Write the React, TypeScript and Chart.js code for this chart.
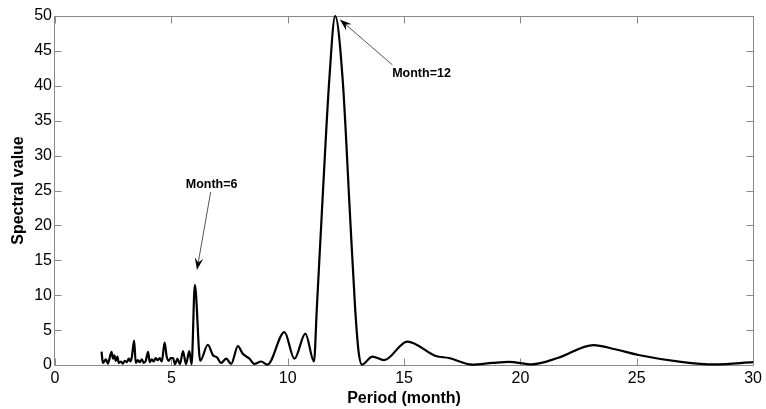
import React, { useEffect, useRef } from "react";
import { Chart, registerables } from "chart.js";

Chart.register(...registerables);

const periods = [
  2.0, 2.06, 2.19, 2.27, 2.43, 2.49, 2.55, 2.61, 2.68, 2.74, 2.83, 2.91, 3.0, 3.09, 3.17, 3.24, 3.3,
  3.4, 3.47, 3.56, 3.64, 3.73, 3.81, 3.9, 4.0, 4.07, 4.16, 4.24, 4.33, 4.41, 4.5, 4.59, 4.71, 4.8,
  4.89, 4.97, 5.07, 5.16, 5.26, 5.37, 5.5, 5.63, 5.77, 5.87, 6.01, 6.24, 6.57, 6.79, 6.96, 7.14,
  7.36, 7.57, 7.86, 8.07, 8.36, 8.57, 8.86, 9.13, 9.86, 10.29, 10.76, 11.13, 11.25, 11.47, 11.79,
  12.04, 12.36, 12.67, 12.9, 13.05, 13.19, 13.64, 14.14, 15.14, 16.36, 16.93, 17.93, 18.8, 19.5,
  20.5, 21.6, 23.14, 24.07, 25.07, 26.9, 28.36, 30.0,
];
const spectral = [
  1.9, 0.3, 0.8, 0.2, 1.9, 0.9, 1.4, 0.6, 1.2, 0.3, 0.5, 0.2, 0.6, 0.4, 0.9, 0.5, 1.1,
  3.5, 0.3, 0.7, 0.4, 0.8, 0.3, 0.6, 1.9, 0.4, 0.8, 0.5, 1.0, 0.7, 1.0, 0.5, 3.2, 1.2,
  0.6, 1.0, 1.0, 0.1, 0.9, 0.1, 2.0, 0.1, 2.0, 0.1, 11.5, 0.6, 2.9, 1.4, 1.1, 0.3,
  0.9, 0.15, 2.7, 1.6, 0.9, 0.15, 0.5, 0.05, 4.7, 0.9, 4.5, 0.5, 8.0, 22.0, 41.0,
  50.0, 41.0, 22.0, 8.0, 1.8, 0.05, 1.2, 0.7, 3.35, 1.3, 1.0, 0.05, 0.3, 0.45,
  0.1, 1.0, 2.86, 2.25, 1.43, 0.45, 0.08, 0.4,
];
const xTicks = [0, 5, 10, 15, 20, 25, 30];
const yTicks = [0, 5, 10, 15, 20, 25, 30, 35, 40, 45, 50];

const annLabels = ["Month=12", "Month=6"];
const annTextX = [14.49, 5.62];
const annTextY = [41.76, 25.9];
const annFromX = [14.5, 6.69];
const annFromY = [43.0, 24.8];
const annToX = [12.24, 6.1];
const annToY = [49.5, 13.6];

const FONT = "'Liberation Sans', Arial, sans-serif";

const framePlugin = {
  id: "frame",
  beforeDatasetsDraw(chart: any) {
    const { ctx, chartArea: a, scales } = chart;
    const x = scales.x;
    const y = scales.y;
    ctx.save();
    ctx.strokeStyle = "#8a8a8a";
    ctx.lineWidth = 1;
    const L = Math.round(a.left) - 0.5;
    const R = Math.round(a.right) + 0.5;
    const T = Math.round(a.top) + 0.5;
    const B = Math.round(a.bottom) + 0.5;
    ctx.beginPath();
    ctx.rect(L, T, R - L, B - T);
    ctx.stroke();
    const tl = 7;
    ctx.beginPath();
    xTicks.forEach((v) => {
      const px = Math.round(x.getPixelForValue(v)) + 0.5;
      ctx.moveTo(px, B);
      ctx.lineTo(px, B - tl);
      ctx.moveTo(px, T);
      ctx.lineTo(px, T + tl);
    });
    yTicks.forEach((v) => {
      const py = Math.round(y.getPixelForValue(v)) + 0.5;
      ctx.moveTo(L, py);
      ctx.lineTo(L + tl, py);
      ctx.moveTo(R, py);
      ctx.lineTo(R - tl, py);
    });
    ctx.stroke();
    ctx.restore();
  },
  afterDatasetsDraw(chart: any) {
    const { ctx, scales } = chart;
    const x = scales.x;
    const y = scales.y;
    ctx.save();
    annLabels.forEach((label, i) => {
      const x0 = x.getPixelForValue(annFromX[i]);
      const y0 = y.getPixelForValue(annFromY[i]);
      const x1 = x.getPixelForValue(annToX[i]);
      const y1 = y.getPixelForValue(annToY[i]);
      const ang = Math.atan2(y1 - y0, x1 - x0);
      const len = 12;
      const hw = 4.2;
      const bx = x1 - len * Math.cos(ang);
      const by = y1 - len * Math.sin(ang);
      const nx = x1 - len * 0.65 * Math.cos(ang);
      const ny = y1 - len * 0.65 * Math.sin(ang);
      ctx.strokeStyle = "#555";
      ctx.lineWidth = 1;
      ctx.beginPath();
      ctx.moveTo(x0, y0);
      ctx.lineTo(nx, ny);
      ctx.stroke();
      ctx.fillStyle = "#000";
      ctx.beginPath();
      ctx.moveTo(x1, y1);
      ctx.lineTo(bx - hw * Math.sin(ang), by + hw * Math.cos(ang));
      ctx.lineTo(nx, ny);
      ctx.lineTo(bx + hw * Math.sin(ang), by - hw * Math.cos(ang));
      ctx.closePath();
      ctx.fill();
      ctx.font = `bold 12.5px ${FONT}`;
      ctx.textAlign = "left";
      ctx.textBaseline = "middle";
      ctx.fillText(label, x.getPixelForValue(annTextX[i]), y.getPixelForValue(annTextY[i]));
    });
    ctx.restore();
  },
};

export default function App() {
  const ref = useRef<HTMLCanvasElement | null>(null);
  useEffect(() => {
    if (!ref.current) return;
    const chart = new Chart(ref.current, {
      type: "line",
      data: {
        datasets: [
          {
            data: periods.map((p, i) => ({ x: p, y: spectral[i] })),
            borderColor: "#000",
            borderWidth: 2.2,
            pointRadius: 0,
            fill: false,
            cubicInterpolationMode: "monotone",
            clip: false as any,
          },
        ],
      },
      options: {
        animation: false,
        responsive: true,
        maintainAspectRatio: false,
        layout: { padding: { left: 0, right: 11, top: 16, bottom: 0 } },
        plugins: { legend: { display: false }, tooltip: { enabled: false } },
        scales: {
          x: {
            type: "linear",
            min: 0,
            max: 30,
            afterFit: (s: any) => {
              s.height = 44;
            },
            afterBuildTicks: (s: any) => {
              s.ticks = xTicks.map((v) => ({ value: v }));
            },
            grid: { display: false, drawTicks: false },
            border: { display: false },
            ticks: { color: "#000", font: { family: FONT, size: 16 }, padding: 4, maxRotation: 0 },
            title: {
              display: true,
              text: "Period (month)",
              color: "#000",
              font: { family: FONT, size: 16, weight: "bold" },
              padding: { top: 0, bottom: 1 },
            },
          },
          y: {
            type: "linear",
            min: 0,
            max: 50,
            afterFit: (s: any) => {
              s.width = 55;
            },
            afterBuildTicks: (s: any) => {
              s.ticks = yTicks.map((v) => ({ value: v }));
            },
            grid: { display: false, drawTicks: false },
            border: { display: false },
            ticks: { color: "#000", font: { family: FONT, size: 16 }, padding: 3 },
            title: {
              display: true,
              text: "Spectral value",
              color: "#000",
              font: { family: FONT, size: 16, weight: "bold" },
              padding: { top: 9, bottom: 0 },
            },
          },
        },
      } as any,
      plugins: [framePlugin],
    });
    return () => chart.destroy();
  }, []);
  return (
    <div style={{ position: "fixed", left: 0, top: 0, width: 766, height: 409, background: "#fff" }}>
      <canvas ref={ref} />
    </div>
  );
}
